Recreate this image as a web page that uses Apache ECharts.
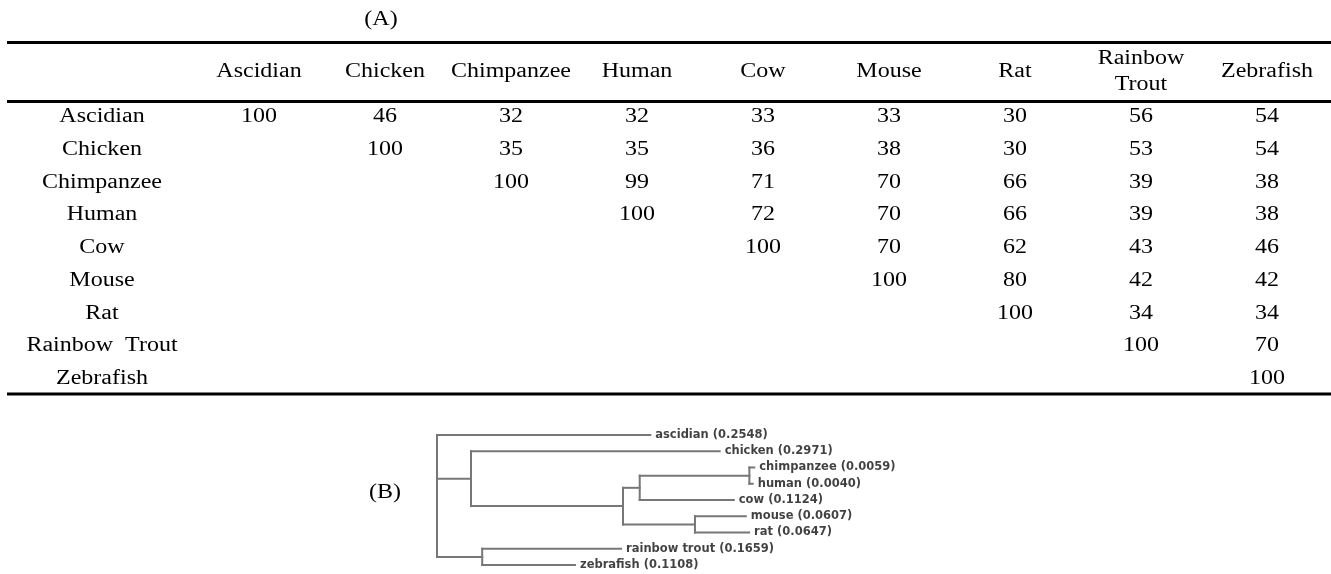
<!DOCTYPE html>
<html>
<head>
<meta charset="utf-8">
<script src="https://cdn.jsdelivr.net/npm/echarts@6/dist/echarts.min.js"></script>
<style>
  html, body { margin: 0; padding: 0; background: #fff; }
  #chart { width: 1331px; height: 574px; }
</style>
</head>
<body>
<div id="chart"></div>
<script>
// (A) pairwise identity table (%), upper triangle
const species = ['Ascidian', 'Chicken', 'Chimpanzee', 'Human', 'Cow', 'Mouse', 'Rat', 'Rainbow Trout', 'Zebrafish'];
const headerLabels = ['Ascidian', 'Chicken', 'Chimpanzee', 'Human', 'Cow', 'Mouse', 'Rat', 'Rainbow\nTrout', 'Zebrafish'];
const rowLabels = ['Ascidian', 'Chicken', 'Chimpanzee', 'Human', 'Cow', 'Mouse', 'Rat', 'Rainbow  Trout', 'Zebrafish'];
const rowAscidian   = [100, 46, 32, 32, 33, 33, 30, 56, 54];
const rowChicken    = [100, 35, 35, 36, 38, 30, 53, 54];
const rowChimpanzee = [100, 99, 71, 70, 66, 39, 38];
const rowHuman      = [100, 72, 70, 66, 39, 38];
const rowCow        = [100, 70, 62, 43, 46];
const rowMouse      = [100, 80, 42, 42];
const rowRat        = [100, 34, 34];
const rowTrout      = [100, 70];
const rowZebrafish  = [100];
const identityRows = [rowAscidian, rowChicken, rowChimpanzee, rowHuman, rowCow, rowMouse, rowRat, rowTrout, rowZebrafish];

// (B) phylogram: leaves in drawing order, their parents and branch lengths
const leafNames   = ['ascidian', 'chicken', 'chimpanzee', 'human', 'cow', 'mouse', 'rat', 'rainbow trout', 'zebrafish'];
const leafLengths = [0.2548, 0.2971, 0.0059, 0.0040, 0.1124, 0.0607, 0.0647, 0.1659, 0.1108];
const leafParents = ['root', 'amniotes', 'primates', 'primates', 'primcow', 'murine', 'murine', 'fish', 'fish'];
const innerNames   = ['amniotes', 'fish', 'mammals', 'primcow', 'primates', 'murine'];
const innerParents = ['root', 'root', 'amniotes', 'mammals', 'primcow', 'mammals'];
const innerLengths = [0.0406, 0.0540, 0.1816, 0.0200, 0.1310, 0.0860];

// ---- table cells
const cellData = [];
identityRows.forEach((vals, r) => {
  const start = species.length - vals.length;
  vals.forEach((v, k) => cellData.push([start + k, r, v]));
});
const headerData = headerLabels.map((t, i) => [i, 0, t]);
const rowLabelData = rowLabels.map((t, i) => [0, i, t]);

const SERIF = '20px "Liberation Serif", "Times New Roman", serif';
const STRETCH = 1.2;
const NUDGE = 2; // optical baseline correction for the serif face

function textEl(x, y, text) {
  return {
    type: 'text', x: x, y: y, scaleX: STRETCH,
    style: { x: 0, y: NUDGE, text: text, font: SERIF, fill: '#000', align: 'center', verticalAlign: 'middle', lineHeight: 26 }
  };
}

// ---- tree layout from the arrays
const parentOf = {}, lengthOf = {};
leafNames.forEach((n, i) => { parentOf[n] = leafParents[i]; lengthOf[n] = leafLengths[i]; });
innerNames.forEach((n, i) => { parentOf[n] = innerParents[i]; lengthOf[n] = innerLengths[i]; });
const allNodes = ['root'].concat(innerNames, leafNames);
const children = {};
allNodes.forEach(n => children[n] = []);
allNodes.forEach(n => { if (parentOf[n]) children[parentOf[n]].push(n); });
const depth = { root: 0 };
function setDepth(n) { children[n].forEach(c => { depth[c] = depth[n] + lengthOf[c]; setDepth(c); }); }
setDepth('root');
const yPos = {};
leafNames.forEach((n, i) => yPos[n] = i);
function setY(n) {
  if (yPos[n] !== undefined) return yPos[n];
  const ys = children[n].map(setY);
  yPos[n] = (Math.min(...ys) + Math.max(...ys)) / 2;
  return yPos[n];
}
setY('root');
const segments = [];
allNodes.forEach(n => {
  if (parentOf[n]) segments.push([depth[parentOf[n]], yPos[n], depth[n], yPos[n]]);
  if (children[n].length) {
    const ys = children[n].map(c => yPos[c]);
    segments.push([depth[n], Math.min(...ys), depth[n], Math.max(...ys)]);
  }
});
const leafPoints = leafNames.map((n, i) => ({
  value: [depth[n], yPos[n]],
  name: n + ' (' + leafLengths[i].toFixed(4) + ')'
}));

const chart = echarts.init(document.getElementById('chart'), null, { renderer: 'canvas' });
chart.setOption({
  animation: false,
  backgroundColor: '#fff',
  grid: [
    { left: 196, top: 98.6, width: 1134, height: 294.75 },
    { left: 437, top: 435, width: 418.5, height: 130 }
  ],
  xAxis: [
    { gridIndex: 0, type: 'category', data: species, show: false },
    { gridIndex: 1, type: 'value', min: 0, max: 0.5, show: false }
  ],
  yAxis: [
    { gridIndex: 0, type: 'category', data: species, inverse: true, show: false },
    { gridIndex: 1, type: 'value', min: 0, max: 8, inverse: true, show: false }
  ],
  graphic: [
    { type: 'rect', shape: { x: 7, y: 41, width: 1324, height: 3 }, style: { fill: '#000' } },
    { type: 'rect', shape: { x: 7, y: 100, width: 1324, height: 3 }, style: { fill: '#000' } },
    { type: 'rect', shape: { x: 7, y: 392.5, width: 1324, height: 3 }, style: { fill: '#000' } },
    { type: 'text', x: 381, y: 18, scaleX: STRETCH, style: { x: 0, y: NUDGE, text: '(A)', font: SERIF, fill: '#000', align: 'center', verticalAlign: 'middle' } },
    { type: 'text', x: 385, y: 491, scaleX: STRETCH, style: { x: 0, y: NUDGE, text: '(B)', font: SERIF, fill: '#000', align: 'center', verticalAlign: 'middle' } }
  ],
  series: [
    {
      type: 'custom', xAxisIndex: 0, yAxisIndex: 0, data: cellData,
      renderItem: (params, api) => {
        const p = api.coord([api.value(0), api.value(1)]);
        return textEl(p[0], p[1], String(api.value(2)));
      }
    },
    {
      type: 'custom', xAxisIndex: 0, yAxisIndex: 0, data: headerData,
      renderItem: (params, api) => {
        const p = api.coord([api.value(0), 0]);
        return textEl(p[0], p[1] - 45, headerLabels[params.dataIndex]);
      }
    },
    {
      type: 'custom', xAxisIndex: 0, yAxisIndex: 0, data: rowLabelData,
      renderItem: (params, api) => {
        const p = api.coord([0, api.value(1)]);
        return textEl(p[0] - 157, p[1], rowLabels[params.dataIndex]);
      }
    },
    {
      type: 'custom', xAxisIndex: 1, yAxisIndex: 1, data: segments,
      renderItem: (params, api) => {
        const a = api.coord([api.value(0), api.value(1)]);
        const b = api.coord([api.value(2), api.value(3)]);
        return {
          type: 'line',
          shape: { x1: a[0], y1: a[1], x2: b[0], y2: b[1] },
          style: { stroke: '#777777', lineWidth: 2, lineCap: 'square' }
        };
      }
    },
    {
      type: 'scatter', xAxisIndex: 1, yAxisIndex: 1, data: leafPoints,
      symbolSize: 0,
      label: {
        show: true, position: 'right', distance: 5,
        formatter: p => p.name,
        fontFamily: '"DejaVu Sans", Verdana, sans-serif', fontWeight: 'bold', fontSize: 11.5,
        color: '#111'
      }
    }
  ]
});
</script>
</body>
</html>
